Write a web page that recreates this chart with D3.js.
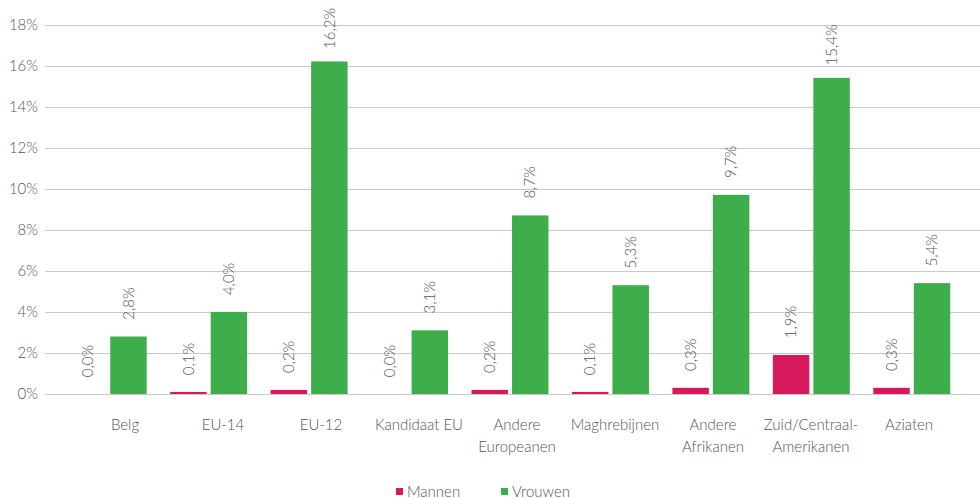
<!DOCTYPE html>
<html>
<head>
<meta charset="utf-8">
<script src="https://cdn.jsdelivr.net/npm/d3@7"></script>
<style>
  body { margin: 0; background: #fff; }
  text { font-family: Lato, "Open Sans", sans-serif; font-weight: 300; fill: #555; }
</style>
</head>
<body>
<div id="chart"></div>
<script>
const categories = ['Belg', 'EU-14', 'EU-12', 'Kandidaat EU', 'Andere Europeanen', 'Maghrebijnen', 'Andere Afrikanen', 'Zuid/Centraal-Amerikanen', 'Aziaten'];
const categoryLines = [['Belg'], ['EU-14'], ['EU-12'], ['Kandidaat EU'], ['Andere', 'Europeanen'], ['Maghrebijnen'], ['Andere', 'Afrikanen'], ['Zuid/Centraal-', 'Amerikanen'], ['Aziaten']];
const series = ['Mannen', 'Vrouwen'];
const mannen = [0.0, 0.1, 0.2, 0.0, 0.2, 0.1, 0.3, 1.9, 0.3];
const vrouwen = [2.8, 4.0, 16.2, 3.1, 8.7, 5.3, 9.7, 15.4, 5.4];
const yTicks = [0, 2, 4, 6, 8, 10, 12, 14, 16, 18];
const colors = { Mannen: '#d8185c', Vrouwen: '#3dae49' };

const width = 980, height = 499;
const svg = d3.select('#chart').append('svg')
  .attr('width', width)
  .attr('height', height);

const y = d3.scaleLinear().domain([0, 18]).range([394, 24.5]);

const x0 = d3.scaleBand().domain(categories).range([58, 962])
  .paddingInner(0.234).paddingOuter(0.117);
const x1 = d3.scaleBand().domain(series).range([0, x0.bandwidth()]).paddingInner(0.1);
// category labels sit a bit to the right of the bar pairs in the original
const xLabel = d3.scalePoint().domain(categories).range([125, 909]);

// Gridlines + y labels
svg.append('g')
  .selectAll('line')
  .data(yTicks)
  .enter().append('line')
  .attr('x1', 45)
  .attr('x2', 980)
  .attr('y1', d => Math.round(y(d)) + 0.5)
  .attr('y2', d => Math.round(y(d)) + 0.5)
  .attr('stroke', '#c9c9c9')
  .attr('stroke-width', 1.2);

svg.append('g')
  .selectAll('text')
  .data(yTicks)
  .enter().append('text')
  .attr('x', 38)
  .attr('y', d => y(d))
  .attr('dy', '0.35em')
  .attr('text-anchor', 'end')
  .style('font-size', '15px')
  .text(d => d + '%');

// Bars
const rows = categories.map((c, i) => ({ cat: c, values: [
  { key: 'Mannen', value: mannen[i] },
  { key: 'Vrouwen', value: vrouwen[i] }
] }));

const groups = svg.append('g')
  .selectAll('g')
  .data(rows)
  .enter().append('g')
  .attr('transform', d => `translate(${x0(d.cat)},0)`);

groups.selectAll('rect')
  .data(d => d.values)
  .enter().append('rect')
  .attr('x', d => x1(d.key))
  .attr('width', x1.bandwidth())
  .attr('y', d => y(d.value))
  .attr('height', d => y(0) - y(d.value))
  .attr('fill', d => colors[d.key]);

// Value labels, rotated
const fmt = v => v.toFixed(1).replace('.', ',') + '%';
groups.selectAll('text')
  .data(d => d.values)
  .enter().append('text')
  .attr('transform', d => `translate(${x1(d.key) + x1.bandwidth() / 2},${y(d.value) - 33}) rotate(-90)`)
  .attr('dy', '0.35em')
  .attr('text-anchor', 'middle')
  .style('font-size', '15px')
  .text(d => fmt(d.value));

// Category labels
svg.append('g')
  .selectAll('text')
  .data(categories)
  .enter().append('text')
  .attr('x', d => xLabel(d))
  .attr('y', 430)
  .attr('text-anchor', 'middle')
  .style('font-size', '15px')
  .each(function(d, i) {
    d3.select(this).selectAll('tspan')
      .data(categoryLines[i])
      .enter().append('tspan')
      .attr('x', xLabel(d))
      .attr('dy', (l, j) => j === 0 ? 0 : 21.5)
      .text(l => l);
  });

// Legend
const legendX = { Mannen: 396, Vrouwen: 501 };
const legend = svg.append('g')
  .selectAll('g')
  .data(series)
  .enter().append('g')
  .attr('transform', d => `translate(${legendX[d]},488)`);

legend.append('rect')
  .attr('width', 7)
  .attr('height', 7)
  .attr('fill', d => colors[d]);

legend.append('text')
  .attr('x', 11)
  .attr('y', 8.5)
  .style('font-size', '15px')
  .text(d => d);
</script>
</body>
</html>
